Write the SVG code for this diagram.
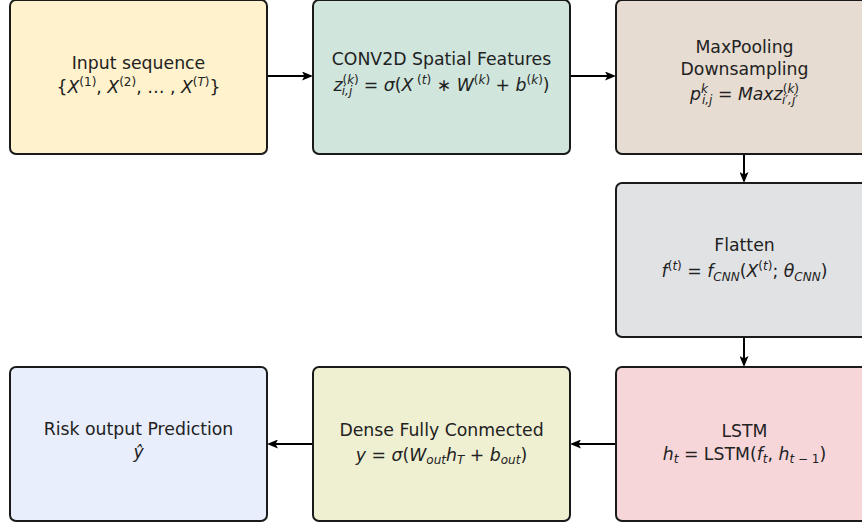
<svg xmlns="http://www.w3.org/2000/svg" width="862" height="525" viewBox="0 0 862 525">
  <defs>
    <marker id="arrow" viewBox="0 0 11 9" markerWidth="11" markerHeight="9" refX="7" refY="4.5" orient="auto" markerUnits="userSpaceOnUse">
      <path d="M0,0 L11,4.5 L0,9 L2.5,4.5 z" fill="#000"/>
    </marker>
    <style>
      .box { stroke: #1a1a1a; stroke-width: 2; }
      .lbl { font-family: "DejaVu Sans", sans-serif; font-size: 17.3px; fill: #222222; text-anchor: middle; }
      .it { font-style: italic; }
      .sc { font-size: 12px; }
      .conn line { stroke: #000; stroke-width: 2; fill: none; marker-end: url(#arrow); }
    </style>
  </defs>
  <rect width="862" height="525" fill="#ffffff"/>

  <!-- connectors -->
  <g id="connectors" class="conn">
    <line x1="267" y1="76" x2="309" y2="76"/>
    <line x1="570" y1="76" x2="612" y2="76"/>
    <line x1="744" y1="154" x2="744" y2="179"/>
    <line x1="744" y1="337" x2="744" y2="363"/>
    <line x1="616" y1="444" x2="574" y2="444"/>
    <line x1="313" y1="444" x2="271" y2="444"/>
  </g>

  <!-- input sequence -->
  <g id="input">
    <rect class="box" x="10" y="0" width="257" height="154" rx="6" fill="#fff2cc"/>
    <text class="lbl" x="138.5" y="69">Input sequence</text>
    <text class="lbl" x="138.5" y="93">{<tspan class="it">X</tspan><tspan class="sc" dy="-7">(1)</tspan><tspan dy="7">, </tspan><tspan class="it">X</tspan><tspan class="sc" dy="-7">(2)</tspan><tspan dy="7">, … , </tspan><tspan class="it">X</tspan><tspan class="sc" dy="-7">(<tspan class="it">T</tspan>)</tspan><tspan dy="7">}</tspan></text>
  </g>

  <!-- conv2d -->
  <g id="conv2d">
    <rect class="box" x="313" y="0" width="257" height="154" rx="6" fill="#d0e6dc"/>
    <text class="lbl" x="441.5" y="65">CONV2D Spatial Features</text>
    <text class="lbl" x="441.5" y="91"><tspan class="it">z</tspan><tspan class="sc" dy="-7">(<tspan class="it">k</tspan>)</tspan><tspan class="sc it" dx="-17" dy="11">i,j</tspan><tspan dx="6" dy="-4"> = </tspan><tspan class="it">σ</tspan>(<tspan class="it">X</tspan><tspan class="sc" dy="-7"> (<tspan class="it">t</tspan>)</tspan><tspan dy="7"> ∗ </tspan><tspan class="it">W</tspan><tspan class="sc" dy="-7">(<tspan class="it">k</tspan>)</tspan><tspan dy="7"> + </tspan><tspan class="it">b</tspan><tspan class="sc" dy="-7">(<tspan class="it">k</tspan>)</tspan><tspan dy="7">)</tspan></text>
  </g>

  <!-- max pooling -->
  <g id="maxpool">
    <rect class="box" x="616" y="0" width="257" height="154" rx="6" fill="#e6dcd1"/>
    <text class="lbl" x="744.5" y="53">MaxPooling</text>
    <text class="lbl" x="744.5" y="75">Downsampling</text>
    <text class="lbl" x="744.5" y="100"><tspan class="it">p</tspan><tspan class="sc it" dy="-7">k</tspan><tspan class="sc it" dx="-6" dy="11">i,j</tspan><tspan dy="-4"> = </tspan><tspan class="it">Maxz</tspan><tspan class="sc" dy="-7">(<tspan class="it">k</tspan>)</tspan><tspan class="sc it" dx="-17" dy="11">i′,j′</tspan></text>
  </g>

  <!-- flatten -->
  <g id="flatten">
    <rect class="box" x="616" y="183" width="257" height="154" rx="6" fill="#e1e2e4"/>
    <text class="lbl" x="744.5" y="251">Flatten</text>
    <text class="lbl" x="744.5" y="277"><tspan class="it">f</tspan><tspan class="sc" dy="-7">(<tspan class="it">t</tspan>)</tspan><tspan dy="7"> = </tspan><tspan class="it">f</tspan><tspan class="sc it" dy="4">CNN</tspan><tspan dy="-4">(</tspan><tspan class="it">X</tspan><tspan class="sc" dy="-7">(<tspan class="it">t</tspan>)</tspan><tspan dy="7">; </tspan><tspan class="it">θ</tspan><tspan class="sc it" dy="4">CNN</tspan><tspan dy="-4">)</tspan></text>
  </g>

  <!-- lstm -->
  <g id="lstm">
    <rect class="box" x="616" y="367" width="257" height="154" rx="6" fill="#f7d6da"/>
    <text class="lbl" x="744.5" y="437">LSTM</text>
    <text class="lbl" x="744.5" y="460"><tspan class="it">h</tspan><tspan class="sc it" dy="3">t</tspan><tspan dy="-3"> = LSTM(</tspan><tspan class="it">f</tspan><tspan class="sc it" dy="3">t</tspan><tspan dy="-3">, </tspan><tspan class="it">h</tspan><tspan class="sc" dy="3"><tspan class="it">t</tspan> − 1</tspan><tspan dy="-3">)</tspan></text>
  </g>

  <!-- dense -->
  <g id="dense">
    <rect class="box" x="313" y="367" width="257" height="154" rx="6" fill="#eff0d1"/>
    <text class="lbl" x="441.5" y="436">Dense Fully Conmected</text>
    <text class="lbl" x="441.5" y="461"><tspan class="it">y</tspan> = <tspan class="it">σ</tspan>(<tspan class="it">W</tspan><tspan class="sc it" dy="3">out</tspan><tspan class="it" dy="-3">h</tspan><tspan class="sc it" dy="3">T</tspan><tspan dy="-3"> + </tspan><tspan class="it">b</tspan><tspan class="sc it" dy="3">out</tspan><tspan dy="-3">)</tspan></text>
  </g>

  <!-- output -->
  <g id="output">
    <rect class="box" x="10" y="367" width="257" height="154" rx="6" fill="#e8eefb"/>
    <text class="lbl" x="138.5" y="435">Risk output Prediction</text>
    <text class="lbl it" x="138.5" y="458">ŷ</text>
  </g>
</svg>
